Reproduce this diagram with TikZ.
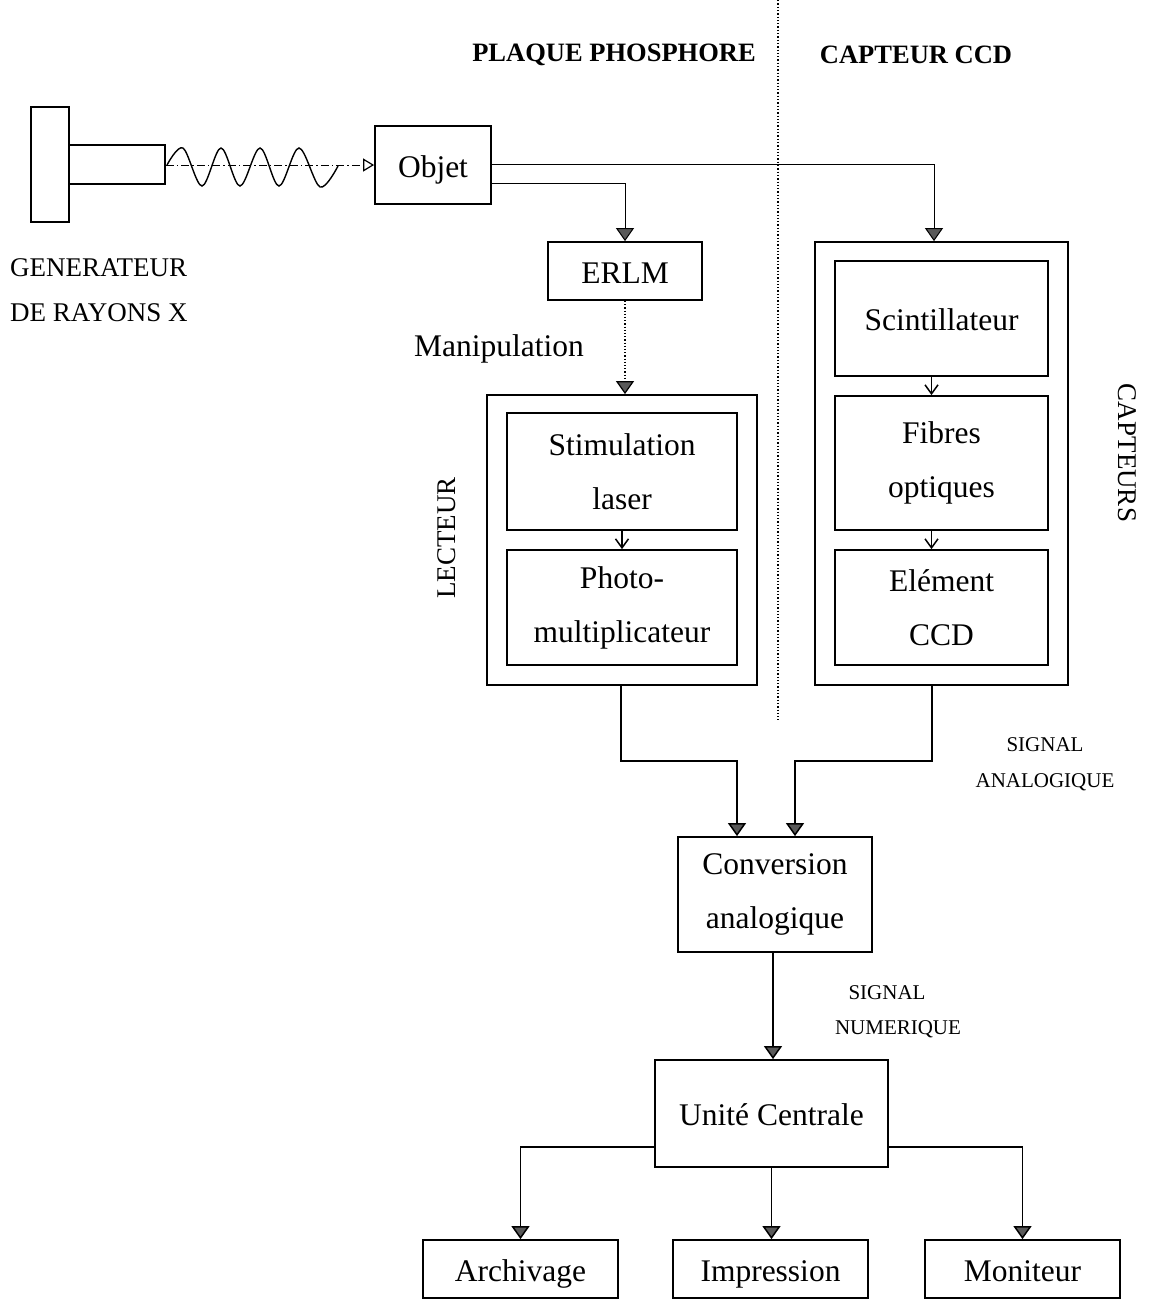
\documentclass[tikz,border=0pt]{standalone}
\usepackage{fontspec}
\setmainfont{Liberation Serif}
\usetikzlibrary{arrows.meta,calc}
\tikzset{
  box/.style={draw, line width=1.8pt, inner sep=0pt, align=center,
    font=\fontsize{31.5}{54}\selectfont},
  one/.style={text height=34pt, text depth=10pt},
  plainbox/.style={draw, line width=1.8pt, inner sep=0pt},
  lbl/.style={inner sep=0pt, font=\fontsize{27}{30}\selectfont},
  sig/.style={inner sep=0pt, font=\fontsize{21}{24}\selectfont},
  hdr/.style={inner sep=0pt, font=\fontsize{26.5}{28}\selectfont\bfseries},
  tipfill/.style={},
  arr/.style={line width=1.5pt, -{Triangle[width=18pt,length=13pt,fill=black!65]}},
  thinarr/.style={line width=1pt, -{Triangle[width=18pt,length=13pt,fill=black!65]}},
  barb/.style={line width=1.5pt, -{Straight Barb[width=13pt,length=9pt,line width=1.5pt]}},
  sep/.style={line width=1.3pt, dotted}
}
\begin{document}
\begin{tikzpicture}[x=1pt,y=-1pt]
\useasboundingbox (0,0) rectangle (1150,1299);

% separator
\coordinate (septop) at (778,0);
\coordinate (sepbot) at (778,720);
\draw[sep] (septop) -- (sepbot);

% headers
\node[hdr] (hplaque) at (614,55) {PLAQUE PHOSPHORE};
\node[hdr] (hccd) at (916,55) {CAPTEUR CCD};

% generator
\node[plainbox, minimum width=38pt, minimum height=115pt] (gen) at (50,164.5) {};
\node[plainbox, minimum width=96pt, minimum height=39pt] (tube) at (117,164.5) {};
\node[lbl, anchor=west] (gen1) at (10,268) {GENERATEUR};
\node[lbl, anchor=west] (gen2) at (10,313) {DE RAYONS X};

% object
\node[box, one, minimum width=116pt, minimum height=78pt] (objet) at (433,165) {Objet};

% beam
\draw[line width=1pt, dash pattern=on 8pt off 3pt on 1.5pt off 3pt,
  -{Triangle[open,width=13pt,length=11pt,line width=1.2pt]}]
  (tube.east |- objet.west) -- (objet.west);
\draw[line width=1.4pt] plot[smooth, tension=0.55] coordinates {
  (167,165) (183,148) (202,186) (221,148) (240,186) (260,148) (279,186)
  (299,148) (320,187) (338,166)};

% plaque phosphore column
\node[box, one, minimum width=154pt, minimum height=58pt] (erlm) at (625,271) {ERLM};
\node[lbl, font=\fontsize{31.5}{34}\selectfont] (manip) at (499,349) {Manipulation};
\node[plainbox, minimum width=270pt, minimum height=290pt] (lectouter) at (622,540) {};
\node[box, minimum width=230pt, minimum height=117pt] (stim) at (622,471.5) {Stimulation\\laser};
\node[box, minimum width=230pt, minimum height=115pt] (photo) at (622,607.5) {Photo-\\multiplicateur};
\node[lbl, rotate=90] (lecteur) at (447,538) {LECTEUR};

% capteur column
\node[plainbox, minimum width=253pt, minimum height=443pt] (captouter) at (941.5,463.5) {};
\node[box, one, minimum width=213pt, minimum height=115pt] (scint) at (941.5,318.5) {Scintillateur};
\node[box, minimum width=213pt, minimum height=134pt] (fibres) at (941.5,463) {Fibres\\optiques};
\node[box, minimum width=213pt, minimum height=115pt] (elem) at (941.5,607.5) {Elément\\CCD};
\node[lbl, rotate=-90] (capteurs) at (1127,453) {CAPTEURS};

% conversion etc.
\node[box, minimum width=194pt, minimum height=115pt] (conv) at (775,894.5) {Conversion\\analogique};
\node[sig] (sa1) at (1045,745) {SIGNAL};
\node[sig] (sa2) at (1045,782) {ANALOGIQUE};
\node[sig] (sn1) at (887,993) {SIGNAL};
\node[sig] (sn2) at (898,1029) {NUMERIQUE};
\node[box, one, minimum width=233pt, minimum height=107pt] (unite) at (771.5,1113.5) {Unité Centrale};
\node[box, one, minimum width=195pt, minimum height=58pt] (arch) at (520.5,1269) {Archivage};
\node[box, one, minimum width=195pt, minimum height=58pt] (impr) at (770.5,1269) {Impression};
\node[box, one, minimum width=195pt, minimum height=58pt] (moni) at (1022.5,1269) {Moniteur};

% connectors
\draw[thinarr] ([yshift=1pt]objet.east) -| ([xshift=-7.5pt]captouter.north);
\draw[thinarr] ([yshift=-18pt]objet.east) -| (erlm.north);
\draw[line width=1.2pt, dotted, -{Triangle[width=18pt,length=13pt,fill=black!65]}]
  (erlm.south) -- (erlm.south |- lectouter.north);
\draw[barb] (stim.south) -- (photo.north);
\draw[barb] ([xshift=-10pt]scint.south) -- ([xshift=-10pt]fibres.north);
\draw[barb] ([xshift=-10pt]fibres.south) -- ([xshift=-10pt]elem.north);
\draw[arr] ([xshift=-1pt]lectouter.south) -- ++(0,75) -| ([xshift=-38pt]conv.north);
\draw[arr] ([xshift=-9.5pt]captouter.south) -- ++(0,75) -| ([xshift=20pt]conv.north);
\draw[arr] ([xshift=-2pt]conv.south) -- ([xshift=-2pt]conv.south |- unite.north);
\draw[arr] ([yshift=-33.5pt]unite.west) -| (arch.north);
\draw[arr] (unite.south) -- (unite.south |- impr.north);
\draw[arr] ([yshift=-33.5pt]unite.east) -| (moni.north);
\end{tikzpicture}
\end{document}
